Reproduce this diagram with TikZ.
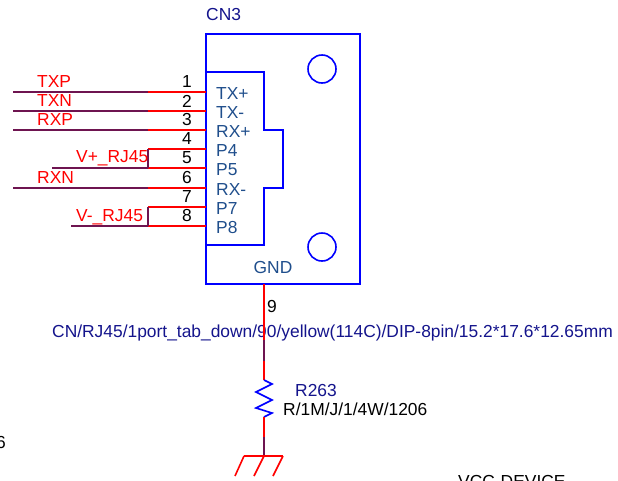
\documentclass[tikz,border=0pt]{standalone}
\usepackage{fontspec}
\setmainfont{Liberation Sans}
\usepackage{xcolor}
\usetikzlibrary{positioning, calc}
\definecolor{pinblue}{HTML}{1F4E8C}
\definecolor{navy}{HTML}{14148C}
\definecolor{wirepurple}{HTML}{6E1450}
\tikzset{
    body/.style={
        draw=blue,
        line width=1.6pt,
    },
    pin/.style={
        draw=red,
        line width=1.6pt,
    },
    wire/.style={
        draw=wirepurple,
        line width=1.6pt,
    },
    pinname/.style={
        text=pinblue,
        font=\fontsize{17.4}{17.4}\selectfont,
        inner sep=0pt,
        anchor=west,
    },
    pinnum/.style={
        text=black,
        font=\fontsize{17.4}{17.4}\selectfont,
        inner sep=0pt,
    },
    net/.style={
        text=red,
        font=\fontsize{17.4}{17.4}\selectfont,
        inner sep=0pt,
        anchor=west,
    },
    partval/.style={
        font=\fontsize{17.4}{17.4}\selectfont,
        inner sep=0pt,
        anchor=west,
    },
}

\begin{document}
\begin{tikzpicture}[x=1pt,y=-1pt]
      \useasboundingbox (0,0) rectangle (618,480);

      % connector body
      \draw [body] (206,34) rectangle (360,284);
      \draw [body] (206,72) -- (264,72) -- (264,130) -- (283,130) -- (283,188)
        -- (264,188) -- (264,245) -- (206,245);
      \node [body, circle, inner sep=0pt, minimum size=28pt] (hole1) at (322,69) {};
      \node [body, circle, inner sep=0pt, minimum size=28pt] (hole2) at (322,247) {};
      \node [partval, text=navy] (CN3) at (206,15) {CN3};

      % pins 1 to 8
      \foreach \n/\y/\lab in {1/92/TX+, 2/111/TX-, 3/130/RX+, 4/149/P4, 5/168/P5, 6/188/RX-, 7/207/P7, 8/226/P8} {
        \coordinate (pin\n) at (206,\y);
        \coordinate (bend\n) at (148,\y);
        \draw [pin] (pin\n) -- (bend\n);
        \node [pinnum] (num\n) at (187,\y-10) {\n};
        \node [pinname] (name\n) at (216,\y+1.5) {\lab};
      }

      % nets
      \coordinate (endTXP) at (13,92);
      \coordinate (endTXN) at (13,111);
      \coordinate (endRXP) at (13,130);
      \coordinate (endVP) at (52,168);
      \coordinate (endRXN) at (13,188);
      \coordinate (endVM) at (71,226);
      \draw [wire] (bend1) -- (endTXP);
      \draw [wire] (bend2) -- (endTXN);
      \draw [wire] (bend3) -- (endRXP);
      \draw [wire] (bend5) -- (endVP);
      \draw [wire] (bend6) -- (endRXN);
      \draw [wire] (bend8) -- (endVM);
      \draw [wire] (bend4) -- (bend5);
      \draw [wire] (bend7) -- (bend8);
      \node [net] (TXP) at (37,82) {TXP};
      \node [net] (TXN) at (37,101) {TXN};
      \node [net] (RXP) at (37,120) {RXP};
      \node [net] (VP) at (76,158) {V+\_RJ45};
      \node [net] (RXN) at (37,178) {RXN};
      \node [net] (VM) at (76,217) {V-\_RJ45};

      % ground pin, resistor, ground
      \coordinate (gndpin) at (264,284);
      \coordinate (w1) at (264,340);
      \coordinate (w2) at (264,361);
      \coordinate (rtop) at (264,380);
      \coordinate (rbot) at (264,417);
      \coordinate (w3) at (264,437);
      \coordinate (gnd) at (264,456);
      \node [pinname, anchor=center] (GND) at (273,268) {GND};
      \node [pinnum] (num9) at (272,307) {9};
      \node [partval, text=navy] (val) at (52,333) {CN/RJ45/1port\_tab\_down/90/yellow(114C)/DIP-8pin/15.2*17.6*12.65mm};
      \draw [pin] (gndpin) -- (w1);
      \draw [wire] (w1) -- (w2);
      \draw [pin] (w2) -- (rtop);
      \draw [body] (rtop) -- (272,384) -- (256,392) -- (272,400) -- (256,408) -- (272,413) -- (rbot);
      \draw [pin] (rbot) -- (w3);
      \draw [wire] (w3) -- (gnd);
      \draw [pin] (244,456) -- (283,456);
      \draw [pin] (244,456) -- (235,476);
      \draw [pin] (gnd) -- (254,476);
      \draw [pin] (283,456) -- (273,476);
      \node [partval, text=navy] (R263) at (295,391) {R263};
      \node [partval] (rval) at (283,409) {R/1M/J/1/4W/1206};

      % cut off at the page edge
      \node [partval, anchor=east] (six) at (6,443) {6};
      \node [partval] (vcc) at (458,481) {VCC-DEVICE};
    \end{tikzpicture}
\end{document}
